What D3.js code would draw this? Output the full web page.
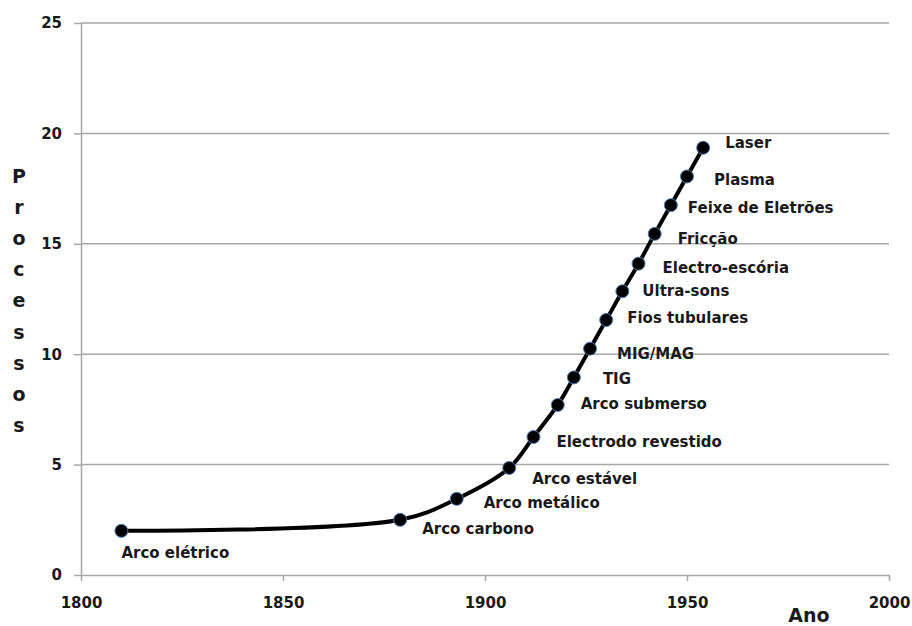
<!DOCTYPE html>
<html>
<head>
<meta charset="utf-8">
<script src="https://cdn.jsdelivr.net/npm/d3@7"></script>
<style>
  body { margin: 0; background: #fff; }
  text { font-family: "DejaVu Sans", sans-serif; }
</style>
</head>
<body>
<div id="chart"></div>
<script>
// data
var processos = ["Arco elétrico", "Arco carbono", "Arco metálico", "Arco estável", "Electrodo revestido",
    "Arco submerso", "TIG", "MIG/MAG", "Fios tubulares", "Ultra-sons", "Electro-escória", "Fricção",
    "Feixe de Eletrões", "Plasma", "Laser"]
var anos = [1810, 1879, 1893, 1906, 1912, 1918, 1922, 1926, 1930, 1934, 1938, 1942, 1946, 1950, 1954]
var valores = [2.0, 2.5, 3.45, 4.85, 6.25, 7.7, 8.95, 10.25, 11.55, 12.85, 14.1, 15.45, 16.75, 18.05, 19.35]
var xTicks = [1800, 1850, 1900, 1950, 2000]
var yTicks = [0, 5, 10, 15, 20, 25]

// label offsets from each marker (dx, dy in px)
var labelOffsets = [[0, 27], [22, 14], [27, 9], [23, 16], [23, 10], [23, 4], [29, 7], [27, 10],
    [21, 3], [20, 5], [24, 9], [23, 10], [17, 8], [27, 9], [22, 0]]

var width = 912, height = 626

var svg = d3.select("#chart")
    .append("svg")
    .attr("width", width)
    .attr("height", height)

svg.append("rect")
    .attr("width", width)
    .attr("height", height)
    .attr("fill", "#fff")

// scales
const x = d3.scaleLinear()
    .domain([1800, 2000])
    .range([81, 889])

const y = d3.scaleLinear()
    .domain([0, 25])
    .range([575, 23])

// horizontal grid lines
svg.append("g").selectAll("line")
    .data(yTicks.filter(function (d) { return d > 0 }))
    .enter()
    .append("line")
    .attr("x1", x(1800))
    .attr("x2", x(2000))
    .attr("y1", function (d) { return y(d) })
    .attr("y2", function (d) { return y(d) })
    .attr("stroke", "#a6a6a6")
    .attr("stroke-width", 1.5)

// x axis
var xAxis = svg.append("g")
    .attr("transform", "translate(0," + y(0) + ")")
    .call(d3.axisBottom(x).tickValues(xTicks).tickFormat(d3.format("d")).tickSize(6).tickSizeOuter(0))
xAxis.select(".domain").attr("stroke", "#a6a6a6").attr("stroke-width", 1.5)
xAxis.selectAll(".tick line").attr("stroke", "#a6a6a6").attr("stroke-width", 1.5)
xAxis.selectAll(".tick text")
    .attr("y", 22)
    .attr("font-size", 15)
    .attr("font-weight", "bold")
    .attr("fill", "#1a1a1a")
    .attr("font-family", "DejaVu Sans")

// y axis
var yAxis = svg.append("g")
    .attr("transform", "translate(" + x(1800) + ",0)")
    .call(d3.axisLeft(y).tickValues(yTicks).tickSize(7).tickSizeOuter(0))
yAxis.select(".domain").attr("stroke", "#a6a6a6").attr("stroke-width", 1.5)
yAxis.selectAll(".tick line").attr("stroke", "#a6a6a6").attr("stroke-width", 1.5)
yAxis.selectAll(".tick text")
    .attr("x", -19)
    .attr("font-size", 15)
    .attr("font-weight", "bold")
    .attr("fill", "#1a1a1a")
    .attr("font-family", "DejaVu Sans")

// x axis label
svg.append("text")
    .attr("text-anchor", "middle")
    .attr("x", 809)
    .attr("y", 622)
    .attr("font-size", 19)
    .attr("font-weight", "bold")
    .attr("fill", "#1a1a1a")
    .text("Ano")

// y axis label, letters stacked
var yLabel = svg.append("text")
    .attr("text-anchor", "middle")
    .attr("font-size", 19)
    .attr("font-weight", "bold")
    .attr("fill", "#1a1a1a")
yLabel.selectAll("tspan")
    .data("Processos".split(""))
    .enter()
    .append("tspan")
    .attr("x", 19)
    .attr("y", function (d, i) { return 183 + i * 31.1 })
    .text(function (d) { return d })

// smoothed line
var points = anos.map(function (a, i) { return {ano: a, valor: valores[i], nome: processos[i]} })

var line = d3.line()
    .x(function (d) { return x(d.ano) })
    .y(function (d) { return y(d.valor) })
    .curve(d3.curveCatmullRom.alpha(0.5))

svg.append("path")
    .datum(points)
    .attr("d", line)
    .attr("fill", "none")
    .attr("stroke", "#000")
    .attr("stroke-width", 4)
    .attr("stroke-linejoin", "round")

// markers
svg.append("g").selectAll("circle")
    .data(points)
    .enter()
    .append("circle")
    .attr("cx", function (d) { return x(d.ano) })
    .attr("cy", function (d) { return y(d.valor) })
    .attr("r", 6.5)
    .attr("fill", "#000")
    .attr("stroke", "#4a7ebb")
    .attr("stroke-width", 1)

// labels
svg.append("g").selectAll("text")
    .data(points)
    .enter()
    .append("text")
    .attr("x", function (d, i) { return x(d.ano) + labelOffsets[i][0] })
    .attr("y", function (d, i) { return y(d.valor) + labelOffsets[i][1] })
    .attr("font-size", 15)
    .attr("font-weight", "bold")
    .attr("fill", "#1a1a1a")
    .text(function (d) { return d.nome })
</script>
</body>
</html>
